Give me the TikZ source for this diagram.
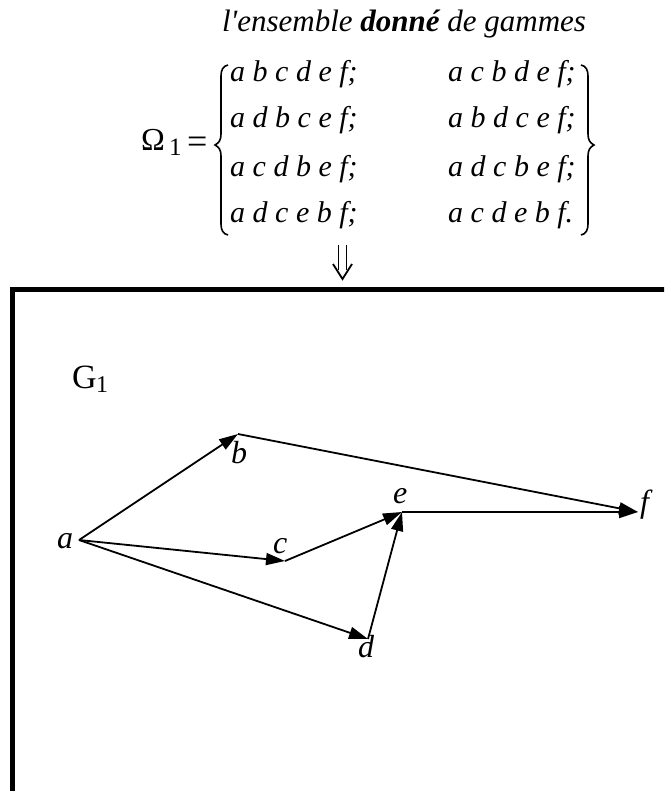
\documentclass[tikz,border=0pt]{standalone}
\usepackage{fontspec}
\setmainfont{Liberation Serif}
\usetikzlibrary{arrows.meta}
\begin{document}
\begin{tikzpicture}[x=1pt,y=-1pt,
  lbl/.style={font=\fontsize{32}{36}\selectfont\itshape, inner sep=0pt, anchor=base west},
  rowtxt/.style={font=\fontsize{30}{34}\selectfont\itshape, inner sep=0pt, anchor=base west},
  edge/.style={line width=1.8pt, -{Triangle[length=19pt,width=12pt]}},
  brace/.style={line width=1.6pt},
  frame/.style={line width=5pt},
  darrow/.style={line width=1.8pt}]
\useasboundingbox (0,0) rectangle (664,791);
\clip (0,0) rectangle (664,791);
% title
\node[inner sep=0pt, anchor=base, font=\fontsize{31}{36}\selectfont\itshape] (title) at (404,32)
  {l\textquotesingle ensemble \textbf{donné} de gammes};
% Omega_1 =
\node[inner sep=0pt, anchor=base west, font=\fontsize{32}{34}\selectfont] (omega) at (141,151) {Ω};
\node[inner sep=0pt, anchor=base west, font=\fontsize{25}{28}\selectfont] (sub1) at (169,156) {1};
\node[inner sep=0pt, anchor=base west, font=\fontsize{36}{40}\selectfont] (eq) at (187,154) {=};
% braces
\draw[brace] (228,65) .. controls (223,66) and (221,70) .. (221,76) -- (221,134)
  .. controls (221,140) and (219,143) .. (215,145)
  .. controls (219,147) and (221,150) .. (221,156) -- (221,224)
  .. controls (221,230) and (223,234) .. (228,235);
\draw[brace] (581,65) .. controls (586,66) and (588,70) .. (588,76) -- (588,134)
  .. controls (588,140) and (590,143) .. (594,145)
  .. controls (590,147) and (588,150) .. (588,156) -- (588,224)
  .. controls (588,230) and (586,234) .. (581,235);
% rows
\node[rowtxt] (r11) at (230,82)  {a b c d e f;};
\node[rowtxt] (r21) at (230,128) {a d b c e f;};
\node[rowtxt] (r31) at (230,177) {a c d b e f;};
\node[rowtxt] (r41) at (230,223) {a d c e b f;};
\node[rowtxt] (r12) at (448,82)  {a c b d e f;};
\node[rowtxt] (r22) at (448,128) {a b d c e f;};
\node[rowtxt] (r32) at (448,177) {a d c b e f;};
\node[rowtxt] (r42) at (448,223) {a c d e b f.};
% double arrow
\draw[darrow] (338.5,245) -- (338.5,270);
\draw[darrow] (346.5,245) -- (346.5,270);
\draw[darrow] (333,264) -- (342.5,279) -- (352,264);
% frame
\draw[frame] (12.5,800) -- (12.5,289.5) -- (680,289.5);
% G1
\node[inner sep=0pt, anchor=base west, font=\fontsize{34}{36}\selectfont] (G) at (72,388) {G};
\node[inner sep=0pt, anchor=base west, font=\fontsize{24}{26}\selectfont] (Gsub) at (96,392) {1};
% vertices
\coordinate (a) at (79,540);
\coordinate (b) at (238,434);
\coordinate (c) at (285,561);
\coordinate (d) at (368,639);
\coordinate (e) at (402,512);
\coordinate (f) at (638,512);
% labels
\node[lbl] (la) at (57,548) {a};
\node[lbl] (lb) at (231,463) {b};
\node[lbl] (lc) at (273,553) {c};
\node[lbl] (ld) at (358,657) {d};
\node[lbl] (le) at (393,503) {e};
\node[lbl] (lf) at (640,512) {f};
% edges
\draw[edge] (a) -- (b);
\draw[edge] (a) -- (c);
\draw[edge] (a) -- (d);
\draw[edge] (b) -- (f);
\draw[edge] (c) -- (e);
\draw[edge] (d) -- (e);
\draw[edge] (e) -- (f);
\end{tikzpicture}
\end{document}
